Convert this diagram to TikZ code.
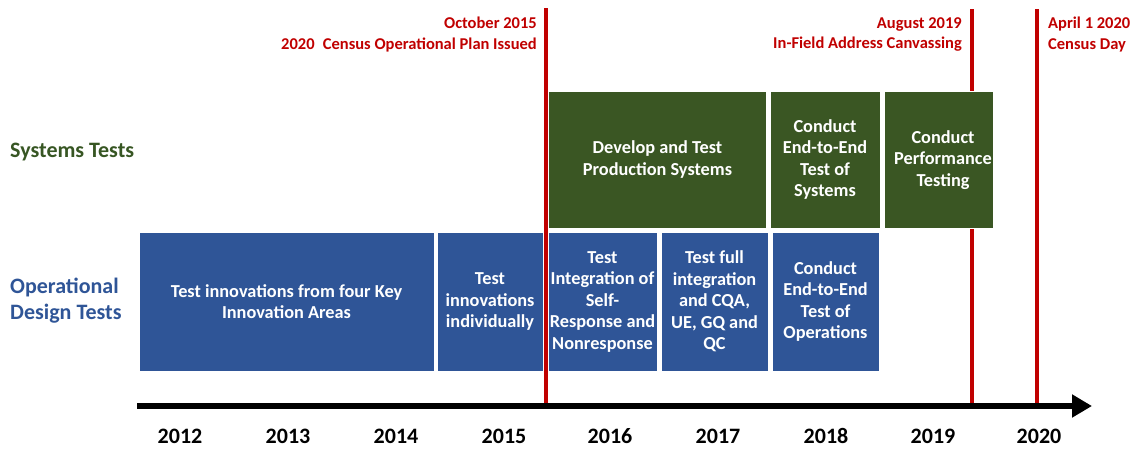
\documentclass[tikz,border=0pt]{standalone}
\usepackage{fontspec}
\setmainfont{Carlito}
\usetikzlibrary{arrows.meta}
\definecolor{cred}{HTML}{C00000}
\definecolor{cgreen}{HTML}{3A5623}
\definecolor{cblue}{HTML}{2F5597}
\definecolor{lgreen}{HTML}{375623}
\definecolor{lblue}{HTML}{2F5597}
\tikzset{
  boxtext/.style={font=\fontsize{18.3}{21.5}\selectfont\bfseries, text=white, align=center, inner sep=0pt},
  gbox/.style={fill=cgreen, draw=white, line width=1pt, inner sep=0pt, minimum height=137pt, boxtext},
  bbox/.style={fill=cblue, draw=white, line width=1pt, inner sep=0pt, minimum height=139pt, boxtext},
  redline/.style={draw=cred, line width=4pt},
  redlabel/.style={font=\fontsize{16.5}{20.5}\selectfont\bfseries, text=cred, inner sep=0pt},
  sidelabel/.style={font=\fontsize{22}{26}\selectfont\bfseries, inner sep=0pt, align=left, anchor=west},
  yearlabel/.style={font=\fontsize{22}{26}\selectfont\bfseries, inner sep=0pt},
  axisline/.style={draw=black, line width=6pt, -{Triangle[length=20pt,width=22pt]}}
}
\begin{document}
\begin{tikzpicture}[x=1pt,y=-1pt]
\useasboundingbox (0,0) rectangle (1130,448);
% red milestone lines
\coordinate (r1t) at (546,8);   \coordinate (r1b) at (546,403);
\coordinate (r2t) at (972,9);   \coordinate (r2b) at (972,403);
\coordinate (r3t) at (1037,9);  \coordinate (r3b) at (1037,403);
\draw[redline] (r1t) -- (r1b);
\draw[redline] (r2t) -- (r2b);
\draw[redline] (r3t) -- (r3b);
% milestone labels
\node[redlabel, anchor=north east, align=right] (m1) at (537,17) {October 2015\\2020\enspace Census Operational Plan Issued};
\node[redlabel, anchor=north east, align=right] (m2) at (962,17) {August 2019\\In-Field Address Canvassing};
\node[redlabel, anchor=north west, align=left] (m3) at (1048,17) {April 1 2020\\Census Day};
% side labels
\node[sidelabel, text=lgreen] (sys) at (10,152) {Systems Tests};
\node[sidelabel, text=lblue] (ops) at (10,301) {Operational\\Design Tests};
% systems tests boxes
\node[gbox, minimum width=218pt] (g1) at (657.5,159.5) {Develop and Test\\Production Systems};
\node[gbox, minimum width=110pt] (g2) at (825,159.5) {Conduct\\End-to-End\\Test of\\Systems};
\node[gbox, minimum width=109pt] (g3) at (938.5,159.5) {};
\begin{scope}
\clip (g3.south west) rectangle (g3.north east);
\node[boxtext] (g3t) at (943,160) {Conduct\\Performance\\Testing};
\end{scope}
% operational design test boxes
\node[bbox, minimum width=295pt] (b1) at (286.5,301.5) {Test innovations from four Key\\Innovation Areas};
\node[bbox, minimum width=106pt] (b2) at (490,301.5) {Test\\innovations\\individually};
\node[bbox, minimum width=109pt] (b3) at (602.5,301.5) {Test\\Integration of\\Self-\\Response and\\Nonresponse};
\node[bbox, minimum width=107pt] (b4) at (714.5,301.5) {Test full\\integration\\and CQA,\\UE, GQ and\\QC};
\node[bbox, minimum width=107pt] (b5) at (825.5,301.5) {Conduct\\End-to-End\\Test of\\Operations};
% time axis
\coordinate (axL) at (137,406);
\coordinate (axR) at (1092,406);
\draw[axisline] (axL) -- (axR);
\foreach \yr/\xx in {2012/180,2013/288,2014/396,2015/504,2016/610,2017/718,2018/826,2019/933,2020/1039}
  \node[yearlabel] (y\yr) at (\xx,436) {\yr};
\end{tikzpicture}
\end{document}
